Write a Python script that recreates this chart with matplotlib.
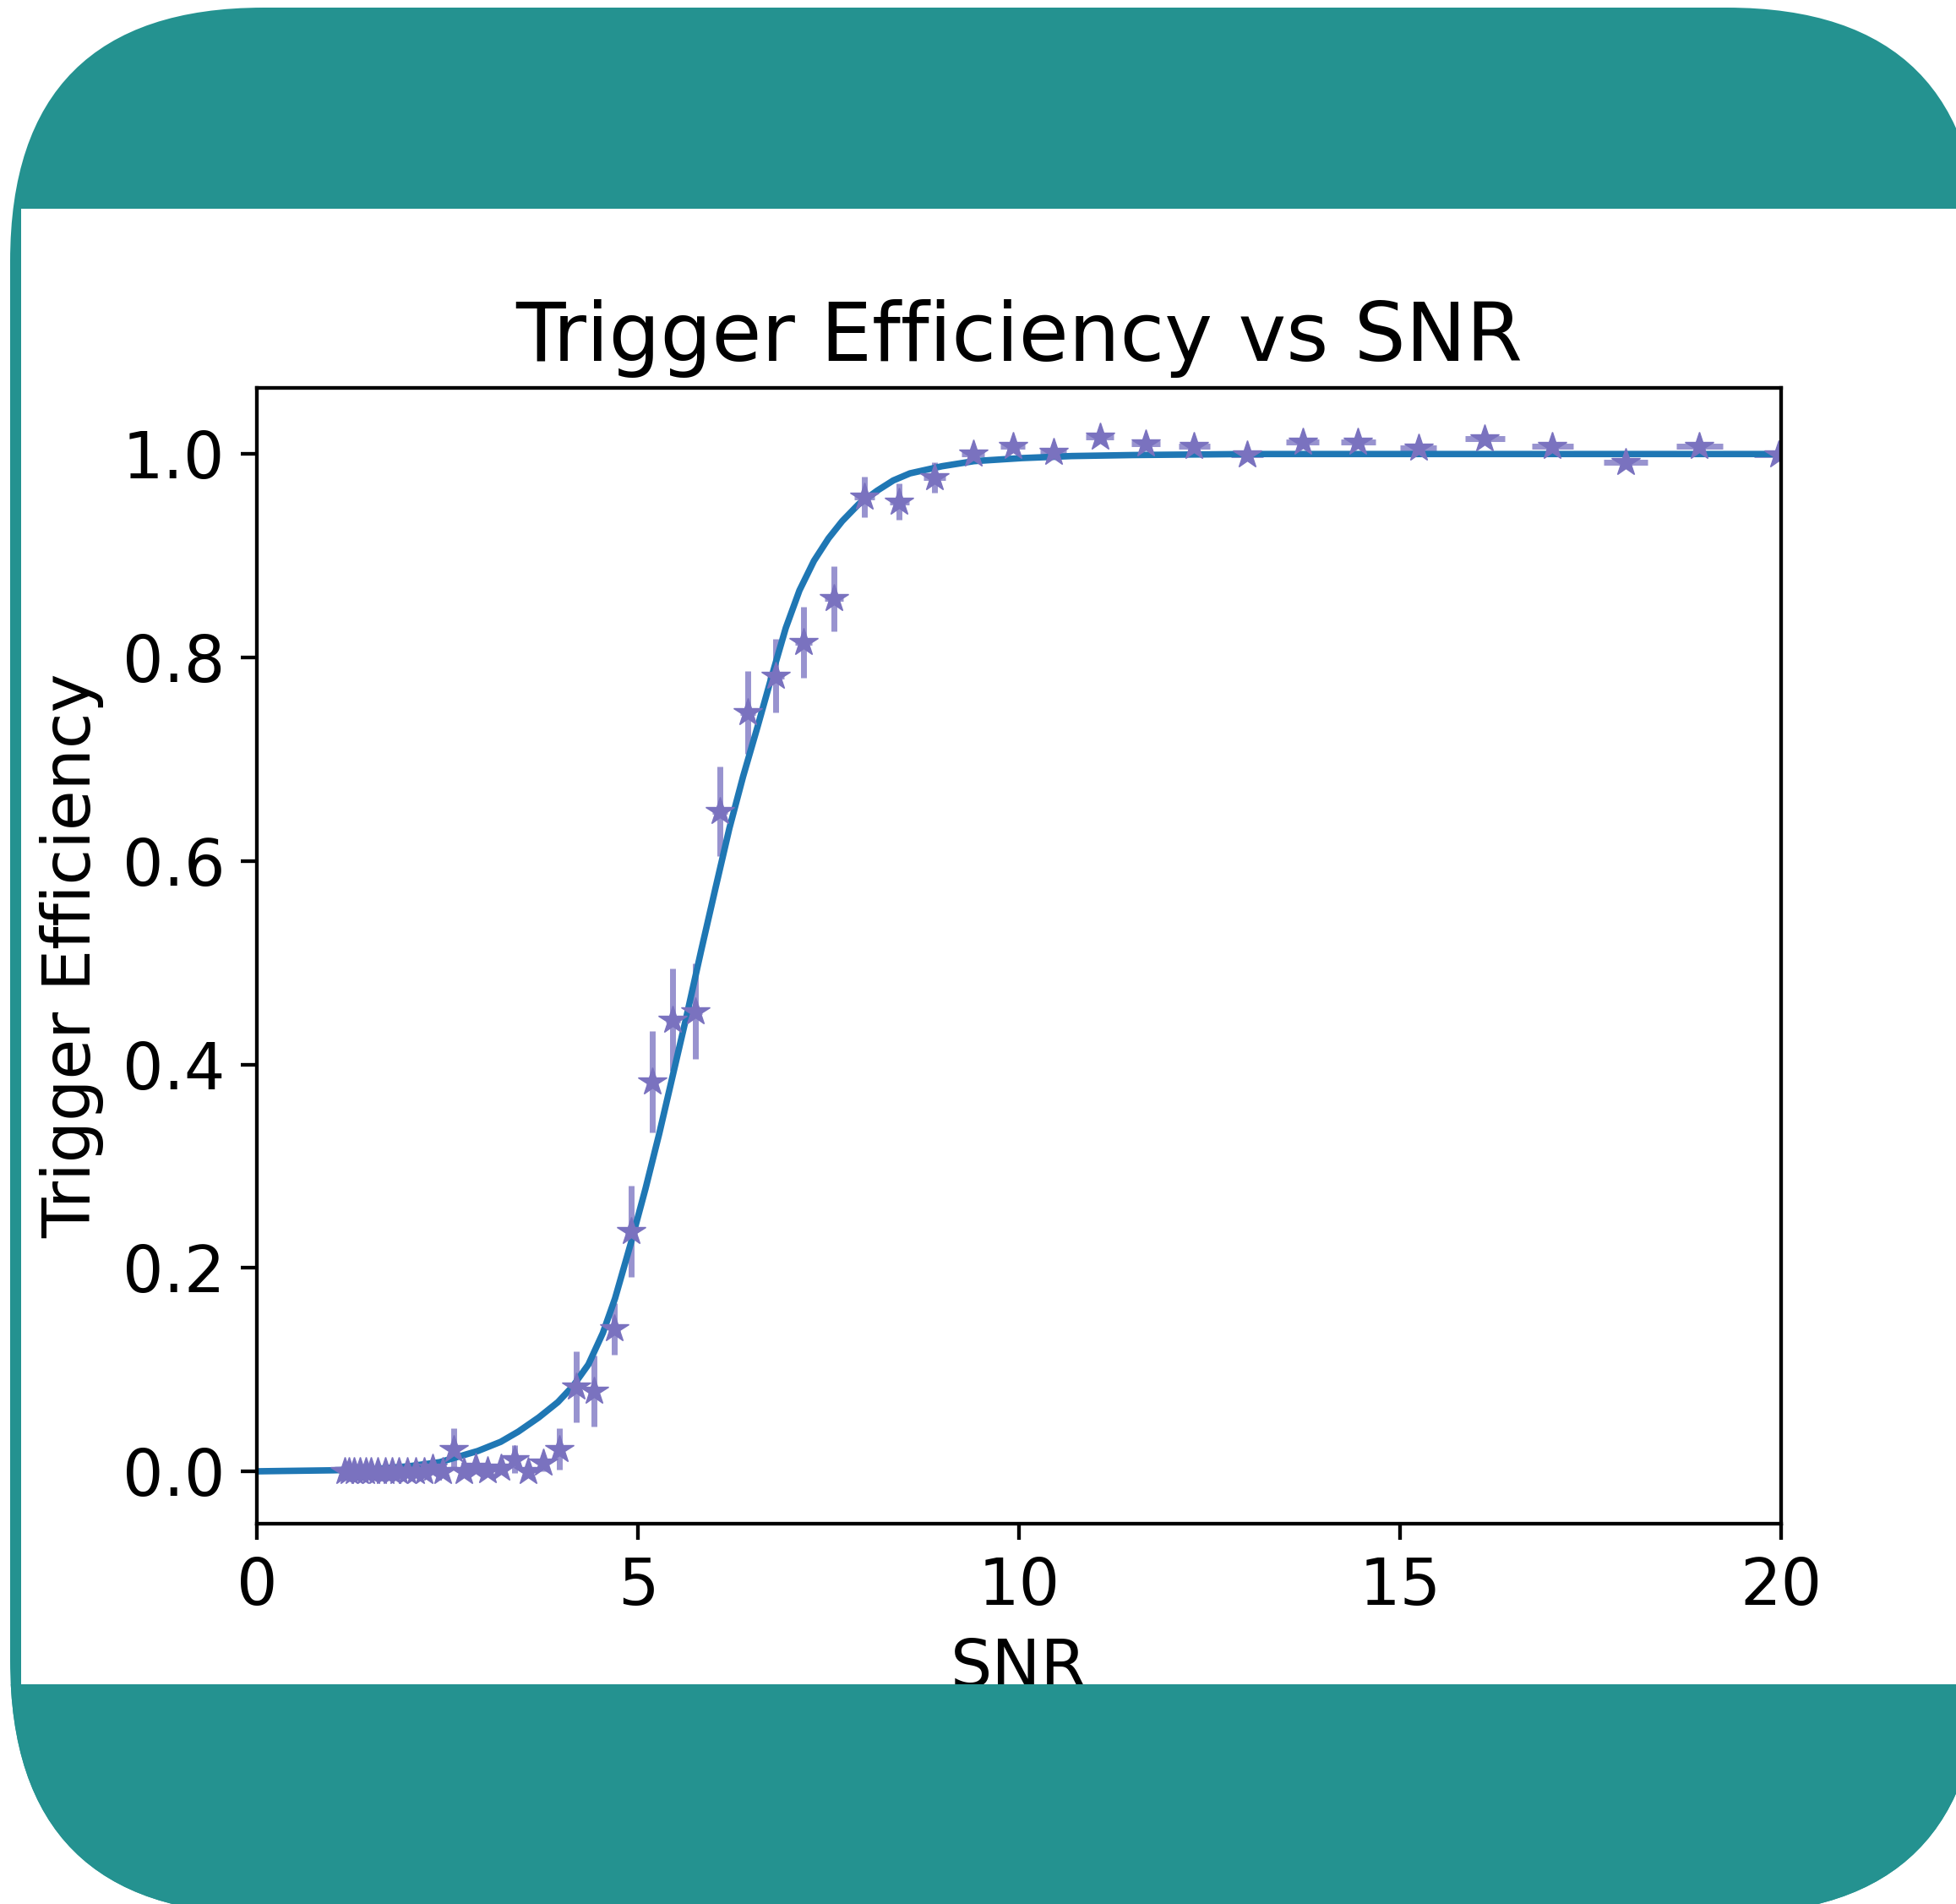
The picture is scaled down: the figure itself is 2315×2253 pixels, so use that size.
import matplotlib
matplotlib.use("Agg")
import matplotlib.pyplot as plt
from matplotlib.patches import FancyBboxPatch, Rectangle
from matplotlib.transforms import Bbox, TransformedBbox

# binned efficiency points
snr = [1.15, 1.21, 1.28, 1.35, 1.43, 1.50, 1.59, 1.68, 1.77, 1.86, 1.97, 2.08, 2.19, 2.31,
       2.44, 2.58, 2.72, 2.87, 3.03, 3.20, 3.38, 3.56, 3.76, 3.97, 4.19, 4.42, 4.69, 4.91,
       5.19, 5.46, 5.75, 6.08, 6.44, 6.81, 7.17, 7.57, 7.97, 8.43, 8.89, 9.40, 9.92, 10.45,
       11.06, 11.66, 12.30, 12.99, 13.72, 14.45, 15.24, 16.11, 17.00, 17.96, 18.93, 19.97]
snr_err = [0.02, 0.02, 0.02, 0.02, 0.02, 0.02, 0.03, 0.03, 0.03, 0.03, 0.03, 0.03, 0.04, 0.04,
           0.04, 0.04, 0.04, 0.05, 0.05, 0.05, 0.05, 0.06, 0.06, 0.06, 0.07, 0.07, 0.08, 0.08,
           0.08, 0.09, 0.09, 0.10, 0.10, 0.11, 0.11, 0.12, 0.13, 0.13, 0.14, 0.15, 0.16, 0.17,
           0.18, 0.19, 0.20, 0.21, 0.22, 0.23, 0.24, 0.26, 0.27, 0.29, 0.30, 0.32]
eff = [0.0, 0.0, 0.0, 0.0, 0.0, 0.0, 0.0, 0.0, 0.0, 0.0, 0.0, 0.0, 0.0, 0.003,
       0.0, 0.022, 0.0, 0.004, 0.001, 0.003, 0.012, 0.0, 0.008, 0.022, 0.083, 0.079, 0.140, 0.236,
       0.383, 0.444, 0.452, 0.649, 0.746, 0.782, 0.815, 0.858, 0.958, 0.953, 0.977, 1.000, 1.008, 1.002,
       1.017, 1.010, 1.008, 0.999, 1.012, 1.012, 1.006, 1.015, 1.008, 0.992, 1.008, 0.999]
eff_err = [0.0, 0.0, 0.0, 0.0, 0.0, 0.0, 0.0, 0.0, 0.0, 0.0, 0.0, 0.0, 0.0, 0.003,
           0.0, 0.02, 0.0, 0.004, 0.002, 0.003, 0.014, 0.0, 0.008, 0.02, 0.035, 0.035, 0.025, 0.045,
           0.05, 0.05, 0.047, 0.044, 0.041, 0.036, 0.035, 0.032, 0.02, 0.018, 0.015, 0.006, 0.005, 0.004,
           0.004, 0.004, 0.004, 0.003, 0.003, 0.003, 0.003, 0.003, 0.003, 0.003, 0.003, 0.003]

# fitted curve
fit_x = [0.0, 1.0, 1.5, 2.0, 2.4, 2.9, 3.2, 3.43, 3.7, 3.95, 4.15, 4.35, 4.54, 4.7, 4.91,
         5.1, 5.28, 5.46, 5.64, 5.83, 6.02, 6.20, 6.38, 6.57, 6.75, 6.94, 7.12, 7.31, 7.5,
         7.68, 7.9, 8.14, 8.35, 8.57, 8.99, 9.41, 10.04, 10.69, 11.5, 13.0, 20.0]
fit_y = [0.0, 0.001, 0.002, 0.005, 0.009, 0.02, 0.029, 0.039, 0.053, 0.068, 0.084, 0.105, 0.136, 0.17, 0.225,
         0.278, 0.332, 0.39, 0.448, 0.512, 0.574, 0.632, 0.683, 0.732, 0.78, 0.829, 0.866, 0.895, 0.917,
         0.934, 0.951, 0.964, 0.974, 0.981, 0.988, 0.993, 0.996, 0.998, 0.999, 1.0, 1.0]

W, H, DPI = 2315, 2253, 100
k = 3.89  # scale of the original small figure

plt.rcParams["axes.linewidth"] = 0.8 * k
plt.rcParams["xtick.major.width"] = 0.8 * k
plt.rcParams["ytick.major.width"] = 0.8 * k
plt.rcParams["xtick.major.size"] = 3.5 * k
plt.rcParams["ytick.major.size"] = 3.5 * k
plt.rcParams["xtick.major.pad"] = 3.5 * k
plt.rcParams["ytick.major.pad"] = 3.5 * k

fig = plt.figure(figsize=(W / DPI, H / DPI), dpi=DPI)
teal = "#249290"

# rounded card behind the chart (coords in inches, origin bottom-left)
card = FancyBboxPatch((0.12, -0.12), 23.32, 22.56, boxstyle="round,pad=0,rounding_size=3.0",
                      transform=fig.dpi_scale_trans, facecolor=teal, edgecolor="none", zorder=-3)
fig.add_artist(card)
white = Rectangle((0.25, 2.60), 23.2, 17.46, transform=fig.dpi_scale_trans,
                  facecolor="white", edgecolor="none", zorder=-2)
fig.add_artist(white)

ax = fig.add_axes([304 / W, 1 - 1803 / H, 1804 / W, 1344 / H])
ax.errorbar(snr, eff, yerr=eff_err, xerr=snr_err, fmt="*", color="#7a72bf", ecolor="#9893cf",
            ms=25, elinewidth=5, capsize=0)
ax.plot(fit_x, fit_y, color="#1f77b4", lw=5.5)

ax.set_xlim(0, 20)
ax.set_ylim(-0.0515, 1.065)
ax.set_xticks([0, 5, 10, 15, 20])
ax.set_yticks([0.0, 0.2, 0.4, 0.6, 0.8, 1.0])
ax.tick_params(labelsize=55)
ax.set_title("Trigger Efficiency vs SNR", fontsize=69, pad=6 * k)
ax.set_xlabel("SNR", fontsize=56, labelpad=4 * k)
ax.set_ylabel("Trigger Efficiency", fontsize=56, labelpad=4 * k)

# teal bottom band drawn over the cut-off x label
band = FancyBboxPatch((0.12, -0.12), 23.32, 22.56, boxstyle="round,pad=0,rounding_size=3.0",
                      transform=fig.dpi_scale_trans, facecolor=teal, edgecolor="none", zorder=5)
band.set_clip_box(TransformedBbox(Bbox([[0, 0], [W / DPI, 2.60]]), fig.dpi_scale_trans))
fig.add_artist(band)

fig.savefig("out.png", dpi=DPI)
